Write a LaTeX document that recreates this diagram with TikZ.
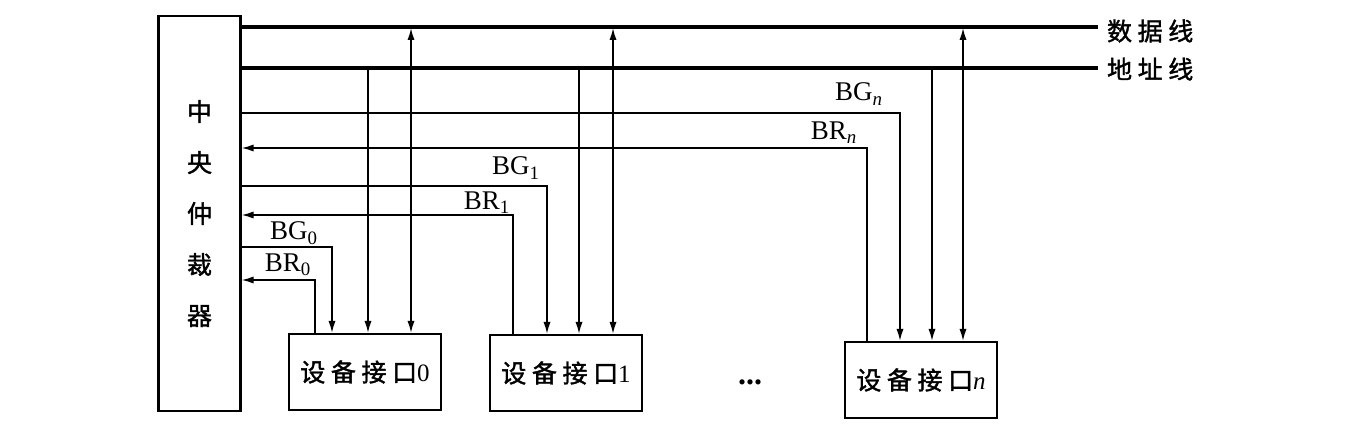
\documentclass[tikz,border=0pt]{standalone}
\usepackage{fontspec}
\setmainfont{Liberation Serif}
\newfontfamily\cjk[FakeBold=1.5]{Noto Sans CJK SC}
\usetikzlibrary{arrows.meta}

\begin{document}
\begin{tikzpicture}[x=0.5pt,y=-0.5pt,
  box/.style={draw,line width=1.1pt,inner sep=0pt},
  dev/.style={box,minimum width=76pt,minimum height=38pt,font=\cjk\fontsize{12.5}{14}\selectfont},
  bus/.style={line width=2.2pt},
  sig/.style={line width=0.8pt,-{Latex[length=6pt,width=3.6pt]}},
  dsig/.style={line width=0.8pt,{Latex[length=6pt,width=3.6pt]}-{Latex[length=6pt,width=3.6pt]}},
  lab/.style={font=\fontsize{13.5}{15}\selectfont,inner sep=0pt},
  cn/.style={font=\cjk\fontsize{12.5}{14}\selectfont}]
\useasboundingbox (0,0) rectangle (1364,427);
\node[box,align=center,minimum width=41pt,minimum height=197.5pt,font=\cjk\fontsize{12.5}{25.5}\selectfont] (arb) at (199.5,213.5) {中\\央\\仲\\裁\\器};
\node[dev] (dev0) at (365,372) {设 备 接 口\rmfamily 0};
\node[dev] (dev1) at (566,373) {设 备 接 口\rmfamily 1};
\node[dev] (devn) at (921,380) {设 备 接 口\rmfamily\itshape n};
\node[anchor=base] (dots) at (750,384) {\fontsize{16}{18}\selectfont\bfseries ...};
% buses
\coordinate (dl) at (1098,27);
\coordinate (al) at (1098,68);
\node[cn,anchor=west] (ldata) at (1100,31) {数 据 线};
\node[cn,anchor=west] (laddr) at (1100,69) {地 址 线};
\draw[bus] (arb.east |- dl) -- (dl);
\draw[bus] (arb.east |- al) -- (al);
% grant / request lines
\coordinate (g0) at (332,247);
\coordinate (r0) at (315,280);
\coordinate (g1) at (547,186);
\coordinate (r1) at (513,215);
\coordinate (gn) at (900,113);
\coordinate (rn) at (867,148);
\draw[sig] (arb.east |- g0) -- (g0) -- (g0 |- dev0.north);
\draw[sig] (r0 |- dev0.north) -- (r0) -- (arb.east |- r0);
\draw[sig] (arb.east |- g1) -- (g1) -- (g1 |- dev1.north);
\draw[sig] (r1 |- dev1.north) -- (r1) -- (arb.east |- r1);
\draw[sig] (arb.east |- gn) -- (gn) -- (gn |- devn.north);
\draw[sig] (rn |- devn.north) -- (rn) -- (arb.east |- rn);
\node[lab] (lg0) at (294,233) {BG\textsubscript{0}};
\node[lab] (lr0) at (288,265) {BR\textsubscript{0}};
\node[lab] (lg1) at (516,168) {BG\textsubscript{1}};
\node[lab] (lr1) at (487,203) {BR\textsubscript{1}};
\node[lab] (lgn) at (859,94) {BG\textsubscript{\textit{n}}};
\node[lab] (lrn) at (834,133) {BR\textsubscript{\textit{n}}};
% address and data taps
\coordinate (a0) at (368,68);
\coordinate (a1) at (579,68);
\coordinate (an) at (932,68);
\coordinate (d0) at (411,28);
\coordinate (d1) at (613,28);
\coordinate (dn) at (963,28);
\draw[sig] (a0) -- (a0 |- dev0.north);
\draw[sig] (a1) -- (a1 |- dev1.north);
\draw[sig] (an) -- (an |- devn.north);
\draw[dsig] (d0) -- (d0 |- dev0.north);
\draw[dsig] (d1) -- (d1 |- dev1.north);
\draw[dsig] (dn) -- (dn |- devn.north);
\end{tikzpicture}
\end{document}
